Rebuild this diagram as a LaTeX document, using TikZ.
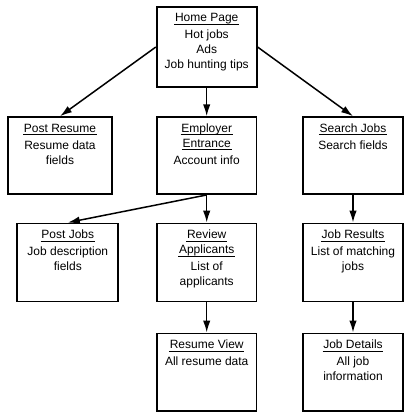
\documentclass[tikz,border=0pt]{standalone}
\usepackage{fontspec}
\setmainfont{Liberation Sans}
\usetikzlibrary{arrows.meta}
\newcommand\ttl[1]{\setbox0\hbox{#1}\leavevmode\rlap{\hspace{-0.8pt}\rule[-3pt]{\dimexpr\wd0+1.6pt\relax}{1pt}}\box0}
\begin{document}
\begin{tikzpicture}[x=1pt,y=-1pt,
  pagebox/.style={draw,line width=1.7pt,inner sep=0pt},
  lbl/.style={anchor=north,align=center,inner xsep=0pt,inner ysep=7.3pt,
    font=\fontsize{12}{15}\selectfont},
  arr/.style={-{Latex[length=12pt,width=7.5pt]},line width=1.5pt}]
\useasboundingbox (0,0) rectangle (412,420);
% row 1
\node[pagebox,minimum width=100pt,minimum height=80pt,
  label={[lbl]north:{\ttl{Home Page}\\[2pt]Hot jobs\\Ads\\Job hunting tips}}]
  (home) at (206.7,47) {};
% row 2
\node[pagebox,minimum width=103.4pt,minimum height=77pt,
  label={[lbl]north:{\ttl{Post Resume}\\[2pt]Resume data\\fields}}]
  (presume) at (60,155.6) {};
\node[pagebox,minimum width=99.5pt,minimum height=77pt,
  label={[lbl]north:{\ttl{Employer}\\\ttl{Entrance}\\[2pt]Account info}}]
  (employer) at (206.7,155.6) {};
\node[pagebox,minimum width=100.6pt,minimum height=77pt,
  label={[lbl]north:{\ttl{Search Jobs}\\[2pt]Search fields}}]
  (search) at (353,155.6) {};
% row 3
\node[pagebox,minimum width=101pt,minimum height=78pt,
  label={[lbl]north:{\ttl{Post Jobs}\\[2pt]Job description\\fields}}]
  (pjobs) at (67.8,262.4) {};
\node[pagebox,minimum width=99.5pt,minimum height=78pt,
  label={[lbl]north:{\ttl{Review}\\\ttl{Applicants}\\[2pt]List of\\applicants}}]
  (review) at (206.7,262.4) {};
\node[pagebox,minimum width=100.6pt,minimum height=78pt,
  label={[lbl]north:{\ttl{Job Results}\\[2pt]List of matching\\jobs}}]
  (results) at (353,262.4) {};
% row 4
\node[pagebox,minimum width=99.5pt,minimum height=77.7pt,
  label={[lbl]north:{\ttl{Resume View}\\[2pt]All resume data}}]
  (rview) at (206.7,372.2) {};
\node[pagebox,minimum width=100.6pt,minimum height=77.7pt,
  label={[lbl]north:{\ttl{Job Details}\\[2pt]All job\\information}}]
  (details) at (353,372.2) {};
% connectors
\draw[arr] (home.west) -- (presume.north);
\draw[arr] (home) -- (employer);
\draw[arr] (home.east) -- (search.north);
\draw[arr] (employer.south) -- (pjobs.north);
\draw[arr] (employer) -- (review);
\draw[arr] (search) -- (results);
\draw[arr] (review) -- (rview);
\draw[arr] (results) -- (details);
\end{tikzpicture}
\end{document}
